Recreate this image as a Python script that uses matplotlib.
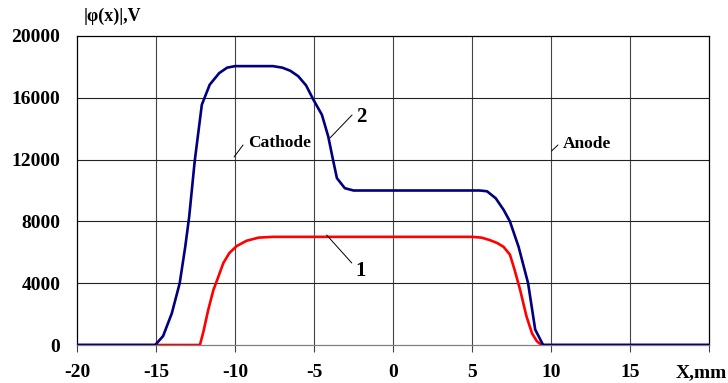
import matplotlib.pyplot as plt

plt.rcParams['font.family'] = ['Liberation Serif', 'DejaVu Serif']
plt.rcParams['font.weight'] = 'bold'


# DATA

# curve 2 (blue)
x2 = [-20, -15.05, -14.55, -14.0, -13.5, -13.15, -12.9, -12.55, -12.1, -11.6,
      -11.0, -10.5, -10.0, -7.6, -7.0, -6.5, -6.0, -5.5, -5.05, -4.5,
      -4.1, -3.8, -3.55, -3.05, -2.5, 5.5, 5.95, 6.5, 7.0, 7.4,
      7.95, 8.55, 9.0, 9.5, 20]
y2 = [0, 0, 580, 2050, 4000, 6350, 8300, 11900, 15550, 16850,
      17600, 17950, 18050, 18050, 17950, 17750, 17400, 16800, 15900, 14900,
      13500, 12000, 10800, 10150, 10000, 10000, 9950, 9500, 8750, 8000,
      6350, 4000, 1000, 0, 0]

# curve 1 (red)
x1 = [-20, -12.22, -12.0, -11.7, -11.37, -11.06, -10.74, -10.36, -9.9, -9.26,
      -8.5, -7.6, 5.0, 5.6, 6.1, 6.6, 7.0, 7.4, 7.7, 8.05,
      8.45, 8.8, 9.1, 9.4, 20]
y1 = [0, 0, 860, 2250, 3550, 4400, 5300, 5950, 6400, 6750,
      6950, 7000, 7000, 6950, 6800, 6600, 6350, 5850, 4850, 3550,
      1850, 750, 250, 0, 0]

x_ticks = [-20, -15, -10, -5, 0, 5, 10, 15, 20]
x_ticklabels = ['-20', '-15', '-10', '-5', '0', '5', '10', '15', '']
y_ticks = [0, 4000, 8000, 12000, 16000, 20000]


# FIGURE

fig = plt.figure(figsize=(7.28, 3.83), dpi=100)
ax = fig.add_axes([77/728, 1 - 345/383, (709 - 77)/728, (345 - 36)/383])

ax.set_xlim(-20, 20)
ax.set_ylim(0, 20000)

# grid
for xv in [-15, -10, -5, 0, 5, 10, 15]:
    ax.axvline(xv, color='#444444', lw=0.8, zorder=1)
for yv in [4000, 8000, 12000, 16000]:
    ax.axhline(yv, color='#222222', lw=0.8, zorder=1)

ax.plot(x1, y1, color='#ff0000', lw=1.9, zorder=3)
ax.plot(x2, y2, color='#000080', lw=1.9, zorder=4)

for s in ['top', 'left', 'right']:
    ax.spines[s].set_color('black')
    ax.spines[s].set_linewidth(0.9)
ax.spines['bottom'].set_color('#808080')
ax.spines['bottom'].set_linewidth(0.9)

ax.set_xticks(x_ticks)
ax.set_xticklabels(x_ticklabels)
ax.set_yticks(y_ticks)
ax.set_yticklabels([str(v) for v in y_ticks])
ax.tick_params(axis='x', direction='out', length=5, width=0.8, color='#444444',
               pad=9, labelsize=14)
ax.tick_params(axis='y', length=0, pad=12, labelsize=14)

ax.annotate('X,mm', xy=(19.5, 0), xycoords=('data', 'axes fraction'),
            xytext=(0, -14), textcoords='offset points',
            ha='center', va='top', fontsize=14, fontweight='bold')

ax.annotate('|\u03c6(x)|,V', xy=(0, 1), xycoords='axes fraction',
            xytext=(5, 8), textcoords='offset points',
            ha='left', va='bottom', fontsize=13, fontweight='bold')

# labels with leader lines
line = dict(arrowstyle='-', color='black', lw=0.7, shrinkA=0, shrinkB=0)
ax.annotate('', xy=(-3.99, 13400), xytext=(-2.59, 14890), arrowprops=line)
ax.text(-2.35, 14750, '2', fontsize=15, fontweight='bold', ha='left', va='center')
ax.annotate('', xy=(-4.2, 7120), xytext=(-2.61, 5310), arrowprops=line)
ax.text(-2.35, 4800, '1', fontsize=15, fontweight='bold', ha='left', va='center')
ax.annotate('', xy=(-10.06, 12170), xytext=(-9.49, 12945), arrowprops=line)
ax.text(-9.2, 13050, 'Cathode', fontsize=12.5, fontweight='bold', ha='left', va='center')
ax.annotate('', xy=(10.04, 12560), xytext=(10.44, 12945), arrowprops=line)
ax.text(10.76, 13000, 'Anode', fontsize=12.5, fontweight='bold', ha='left', va='center')

fig.savefig('out.png', dpi=100)
